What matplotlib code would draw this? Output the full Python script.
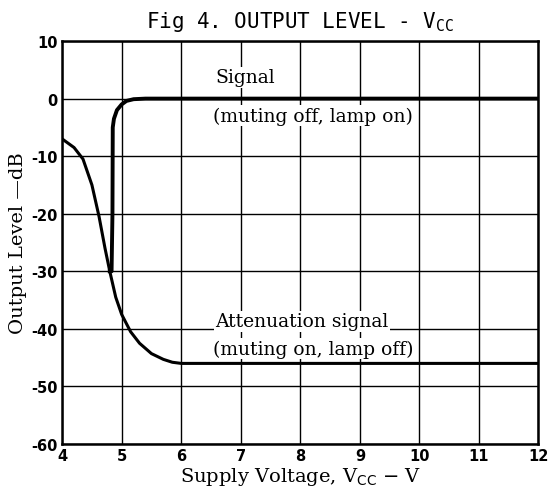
import numpy as np
from matplotlib import pyplot as plt

# values
vcc_att = [4.0, 4.2, 4.35, 4.5, 4.62, 4.72, 4.8, 4.9, 5.0, 5.15, 5.3, 5.5, 5.7, 5.85, 6.0, 12.0]
att_db = [-7.0, -8.5, -10.5, -15.0, -20.5, -26.0, -30.0, -34.5, -37.5, -40.5, -42.5, -44.3, -45.3, -45.8, -46.0, -46.0]

vcc_sig = [4.8, 4.83, 4.845, 4.85, 4.87, 4.92, 5.0, 5.08, 5.2, 5.4, 12.0]
sig_db = [-30.0, -30.0, -20.0, -5.0, -3.5, -2.0, -1.0, -0.4, -0.1, 0.0, 0.0]

x_ticks = [4, 5, 6, 7, 8, 9, 10, 11, 12]
y_ticks = [10, 0, -10, -20, -30, -40, -50, -60]
y_tick_labels = ["10", "0", "-10", "-20", "-30", "-40", "-50", "-60"]

fig = plt.figure(figsize=(5.5, 4.89), dpi=100)
ax = fig.add_axes([0.113, 0.09, 0.866, 0.824])

ax.set_xlim(4, 12)
ax.set_ylim(-60, 10)
ax.set_xticks(x_ticks)
ax.set_yticks(y_ticks)
ax.set_yticklabels(y_tick_labels)
ax.grid(True, color="black", linewidth=1.0)
ax.tick_params(length=0, pad=3, labelsize=10.5)
for lab in ax.get_xticklabels() + ax.get_yticklabels():
    lab.set_fontweight("bold")
    lab.set_family("DejaVu Sans")
for s in ax.spines.values():
    s.set_linewidth(1.8)

ax.plot(vcc_att, att_db, color="black", linewidth=2.2, zorder=3)
ax.plot(vcc_sig, sig_db, color="black", linewidth=2.8, zorder=3)

serif = "DejaVu Serif"
box = dict(facecolor="white", edgecolor="none", pad=1)
ax.text(6.57, 3.7, "Signal", family=serif, fontsize=13.5, va="center", ha="left", bbox=box, zorder=4)
ax.text(6.53, -3.0, "(muting off, lamp on)", family=serif, fontsize=13.5, va="center", ha="left", bbox=box, zorder=4)
ax.text(6.57, -38.7, "Attenuation signal", family=serif, fontsize=13.5, va="center", ha="left", bbox=box, zorder=4)
ax.text(6.53, -43.4, "(muting on, lamp off)", family=serif, fontsize=13.5, va="center", ha="left", bbox=box, zorder=4)

ax.set_title("Fig 4. OUTPUT LEVEL - V$_{\\mathtt{CC}}$", family="DejaVu Sans Mono", fontsize=15, pad=10)
ax.set_xlabel("Supply Voltage, V$_{\\mathrm{CC}}$ $-$ V", family=serif, fontsize=14, labelpad=1)
ax.set_ylabel("Output Level \u2014dB", family=serif, fontsize=14, labelpad=3)

plt.savefig("out.png", dpi=100)
